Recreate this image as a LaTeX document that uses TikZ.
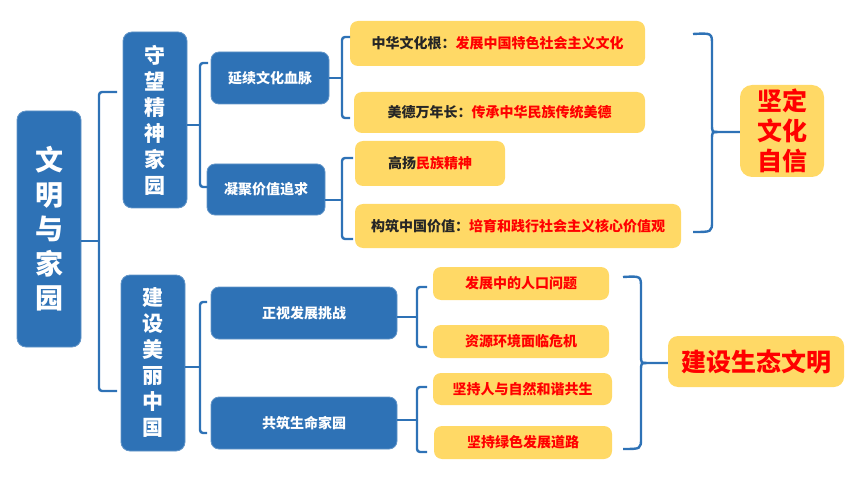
\documentclass[tikz,border=0pt]{standalone}
\usepackage{fontspec}
\setmainfont{Noto Sans CJK SC}
\definecolor{blueC}{HTML}{2E72B6}
\definecolor{yelC}{HTML}{FFD966}
\definecolor{redC}{HTML}{FF0000}
\definecolor{darkC}{HTML}{262626}
\tikzset{
  bluebox/.style={fill=blueC, draw=blueC!75!white, line width=0.8pt, rounded corners=9pt, text=white, inner sep=0pt, align=center},
  yelbox/.style={fill=yelC, draw=none, rounded corners=8pt, inner sep=0pt, align=center, text=darkC, font=\bfseries\fontsize{14}{16}\selectfont},
  br/.style={draw=blueC, line width=2.4pt, rounded corners=3pt},
  brc/.style={draw=blueC, line width=2.4pt},
  rd/.style={text=redC}
}
\begin{document}
\begin{tikzpicture}[x=1pt,y=-1pt]
\useasboundingbox (0,0) rectangle (860,484);
% level 1
\node[bluebox, minimum width=64, minimum height=236, font=\bfseries\fontsize{28}{34.5}\selectfont] (root) at (49,229) {文\\明\\与\\家\\园};
% level 2
\node[bluebox, minimum width=64, minimum height=176, font=\bfseries\fontsize{21}{26}\selectfont] (sw) at (155,120) {守\\望\\精\\神\\家\\园};
\node[bluebox, minimum width=64, minimum height=176, font=\bfseries\fontsize{21}{26}\selectfont] (jm) at (153,363) {建\\设\\美\\丽\\中\\国};
% level 3
\node[bluebox, rounded corners=8pt, minimum width=118, minimum height=52, font=\bfseries\fontsize{14}{16}\selectfont] (yx) at (270,78) {延续文化血脉};
\node[bluebox, rounded corners=8pt, minimum width=118, minimum height=51, font=\bfseries\fontsize{14}{16}\selectfont] (nj) at (266,189.5) {凝聚价值追求};
\node[bluebox, rounded corners=8pt, minimum width=186, minimum height=52, font=\bfseries\fontsize{14}{16}\selectfont] (zs) at (304,313) {正视发展挑战};
\node[bluebox, rounded corners=8pt, minimum width=186, minimum height=52, font=\bfseries\fontsize{14}{16}\selectfont] (gz) at (304,423) {共筑生命家园};
% level 4
\node[yelbox, minimum width=295, minimum height=45] (y1) at (497.5,43.5) {中华文化根：\textcolor{redC}{发展中国特色社会主义文化}};
\node[yelbox, minimum width=291, minimum height=41] (y2) at (499.5,112.5) {美德万年长：\textcolor{redC}{传承中华民族传统美德}};
\node[yelbox, minimum width=150, minimum height=45] (y3) at (430,163.5) {高扬\textcolor{redC}{民族精神}};
\node[yelbox, minimum width=326, minimum height=44] (y4) at (518,226) {构筑中国价值：\textcolor{redC}{培育和践行社会主义核心价值观}};
\node[yelbox, rd, minimum width=176, minimum height=33] (y5) at (521,283.5) {发展中的人口问题};
\node[yelbox, rd, minimum width=176, minimum height=33] (y6) at (521,341.5) {资源环境面临危机};
\node[yelbox, rd, minimum width=179, minimum height=32] (y7) at (522.5,389) {坚持人与自然和谐共生};
\node[yelbox, rd, minimum width=178, minimum height=33] (y8) at (523,442.5) {坚持绿色发展道路};
% conclusions
\node[yelbox, rd, rounded corners=12pt, minimum width=84, minimum height=92, font=\bfseries\fontsize{25}{30}\selectfont] (cf) at (782,131) {坚定\\文化\\自信};
\node[yelbox, rd, rounded corners=10pt, minimum width=176, minimum height=51, font=\bfseries\fontsize{25}{30}\selectfont] (st) at (756,361.5) {建设生态文明};
% bracket coordinates
\coordinate (b0m) at (99,241); \coordinate (b0t) at (117,92); \coordinate (b0b) at (117,391);
\coordinate (b1m) at (200,125); \coordinate (b1t) at (208,63); \coordinate (b1b) at (208,187);
\coordinate (b2m) at (200,367); \coordinate (b2t) at (207,302); \coordinate (b2b) at (207,433);
\coordinate (b3m) at (342,78); \coordinate (b3t) at (350,37); \coordinate (b3b) at (350,118);
\coordinate (b4m) at (342,200); \coordinate (b4t) at (353,158); \coordinate (b4b) at (353,239);
\coordinate (b5m) at (417,317); \coordinate (b5t) at (427,287); \coordinate (b5b) at (427,347);
\coordinate (b6m) at (417,420); \coordinate (b6t) at (427,387); \coordinate (b6b) at (427,452);
% left brackets
\draw[br] (root.east |- b0m) -- (b0m);
\draw[br] (b0t) -| (b0m) |- (b0b);
\draw[br] (sw.east |- b1m) -- (b1m);
\draw[br] (b1t) -| (b1m) |- (b1b);
\draw[br] (jm.east |- b2m) -- (b2m);
\draw[br] (b2t) -| (b2m) |- (b2b);
\draw[br] (yx.east |- b3m) -- (b3m);
\draw[br] (b3t) -| (b3m) |- (b3b);
\draw[br] (nj.east |- b4m) -- (b4m);
\draw[br] (b4t) -| (b4m) |- (b4b);
\draw[br] (zs.east |- b5m) -- (b5m);
\draw[br] (b5t) -| (b5m) |- (b5b);
\draw[br] (gz.east |- b6m) -- (b6m);
\draw[br] (b6t) -| (b6m) |- (b6b);
% right braces
\coordinate (c1t) at (693,34); \coordinate (c1b) at (693,232); \coordinate (c1m) at (718,132);
\draw[brc] (c1t) .. controls (712,33) .. (712,45) -- (712,124) .. controls (712,132) .. (c1m) -- (cf.west |- c1m);
\draw[brc] (c1m) .. controls (712,132) .. (712,140) -- (712,221) .. controls (712,232) .. (c1b);
\coordinate (c2t) at (623,277); \coordinate (c2b) at (623,449); \coordinate (c2m) at (647,363);
\draw[brc] (c2t) .. controls (641,276) .. (641,288) -- (641,355) .. controls (641,363) .. (c2m) -- (st.west |- c2m);
\draw[brc] (c2m) .. controls (641,363) .. (641,371) -- (641,438) .. controls (641,449) .. (c2b);
\end{tikzpicture}
\end{document}
